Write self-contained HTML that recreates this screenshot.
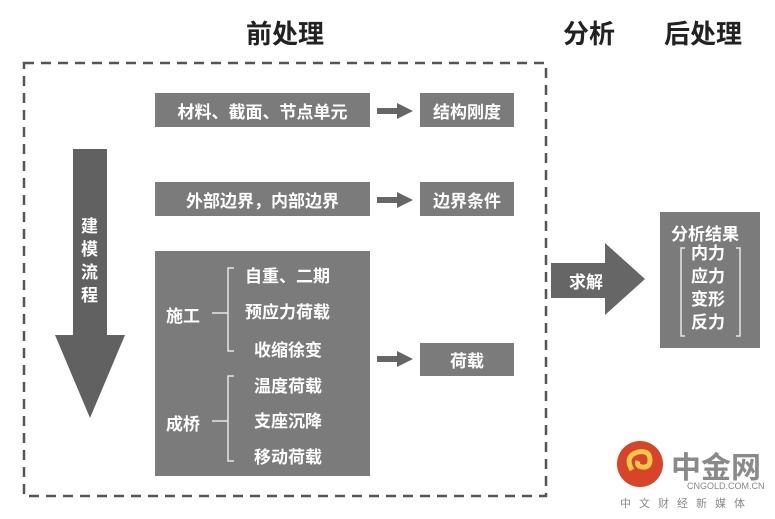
<!DOCTYPE html>
<html><head><meta charset="utf-8"><style>
body{margin:0;width:775px;height:519px;background:#fff;position:relative;overflow:hidden;font-family:"Liberation Sans","Noto Sans CJK SC",sans-serif;}
.a{position:absolute}
.t{font-weight:bold;font-size:26px;color:#222}
.box{position:absolute;background:#7b7b7b;color:#fff;font-size:17px;display:flex;align-items:center;justify-content:center;font-weight:bold}
.w{position:absolute;color:#fff;font-size:17px;font-weight:bold;white-space:nowrap;z-index:3}
</style></head><body>
<div class="a t" style="left:246px;top:14px">前处理</div>
<div class="a t" style="left:563px;top:14px">分析</div>
<div class="a t" style="left:664px;top:14px">后处理</div>
<div class="box" style="left:155px;top:93px;width:215px;height:34px">材料、截面、节点单元</div>
<div class="box" style="left:420px;top:93px;width:94px;height:34px">结构刚度</div>
<div class="box" style="left:155px;top:182px;width:215px;height:34px">外部边界，内部边界</div>
<div class="box" style="left:420px;top:182px;width:94px;height:34px">边界条件</div>
<div class="box" style="left:155px;top:251px;width:215px;height:225px"></div>
<div class="box" style="left:420px;top:343px;width:94px;height:33px">荷载</div>
<div class="box" style="left:660px;top:212px;width:100px;height:136px"></div>
<svg class="a" style="left:0;top:0;z-index:2" width="775" height="519">
<rect x="24" y="63" width="522" height="433" fill="none" stroke="#555" stroke-width="2.5" stroke-dasharray="10,7"/>
<polygon points="73,149 107,149 107,335 125,335 90,418 55,335 73,335" fill="#616161"/>
<g fill="#666"><rect x="377" y="108" width="22" height="6"/><polygon points="397,103 413,111 397,119"/>
<rect x="377" y="197" width="22" height="6"/><polygon points="397,192 413,200 397,208"/>
<rect x="377" y="356" width="22" height="6"/><polygon points="397,351 413,359 397,367"/></g>
<polygon points="551,263 605,263 605,243 645,279 605,315 605,298 551,298" fill="#666"/>
<g stroke="#e6e6e6" stroke-width="1.5" fill="none">
<path d="M234,268 h-6 v83 h6"/><path d="M234,376 h-6 v85 h6"/><path d="M212,313 h16"/><path d="M212,421 h16"/>
<path d="M685,248 h-4 v88 h4"/><path d="M736,248 h4 v88 h-4"/></g>
<circle cx="640" cy="464" r="23" fill="#d8442a"/>
<path d="M632,470 q-8,-14 6,-18 q12,-2 12,8 q0,8 -8,7 q-6,-1 -4,-6" stroke="#f6c94a" stroke-width="5" fill="none"/>
</svg>
<div class="w" style="left:166px;top:302px">施工</div>
<div class="w" style="left:166px;top:410px">成桥</div>
<div class="w" style="left:245px;top:262px">自重、二期</div>
<div class="w" style="left:245px;top:298px">预应力荷载</div>
<div class="w" style="left:254px;top:336px">收缩徐变</div>
<div class="w" style="left:254px;top:372px">温度荷载</div>
<div class="w" style="left:254px;top:407px">支座沉降</div>
<div class="w" style="left:254px;top:443px">移动荷载</div>
<div class="w" style="left:81px;top:215px;width:18px;line-height:23px;white-space:normal">建模流程</div>
<div class="w" style="left:569px;top:268px">求解</div>
<div class="w" style="left:671px;top:220px">分析结果</div>
<div class="w" style="left:691px;top:242px;line-height:23px;white-space:normal;width:36px">内力 应力 变形 反力</div>
<div class="a" style="left:671px;top:443px;font-size:30px;font-weight:bold;color:#8a8a8a">中金网</div>
<div class="a" style="left:687px;top:481px;font-size:9px;color:#888">CNGOLD.COM.CN</div>
<div class="a" style="left:620px;top:495px;font-size:11px;color:#888;letter-spacing:8px">中文财经新媒体</div>
</body></html>
